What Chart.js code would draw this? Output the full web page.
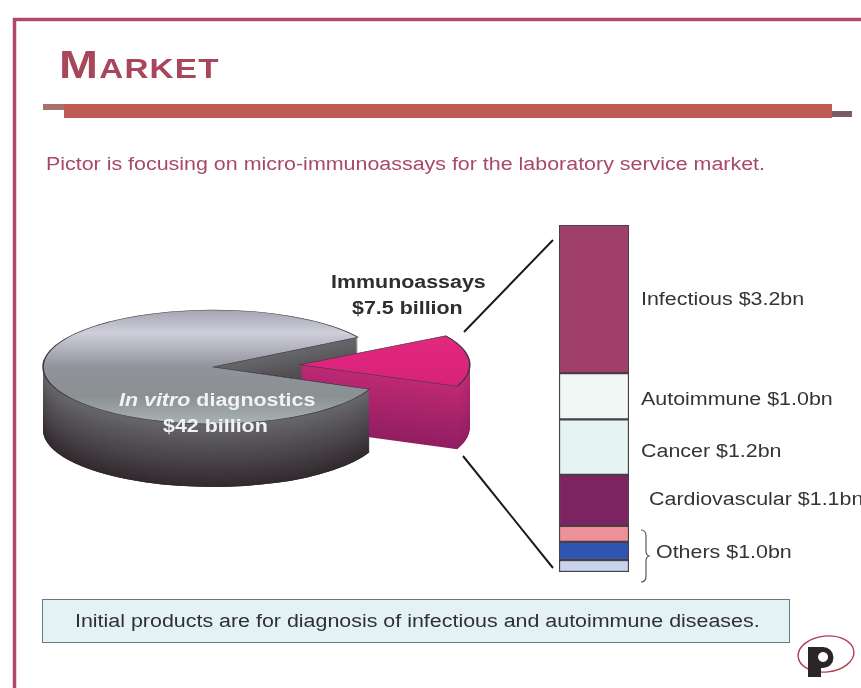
<!DOCTYPE html>
<html>
<head>
<meta charset="utf-8">
<title>Market</title>
<script src="https://cdn.jsdelivr.net/npm/chart.js@4/dist/chart.umd.min.js"></script>
<style>
html, body { margin: 0; padding: 0; background: #fff; }
#page { position: relative; width: 861px; height: 688px; overflow: hidden; font-family: "Liberation Sans", Arial, sans-serif; color: #343438; }
#page canvas, #page svg { position: absolute; }
.txt { position: absolute; white-space: nowrap; line-height: 1; transform-origin: 0 50%; transform: scaleX(1.19); }
#title { left: 59px; top: 46px; font-size: 38px; font-weight: bold; font-variant: small-caps; color: #a8465c; letter-spacing: 1px; transform: scaleX(1.23); }
#sub { left: 46px; top: 155px; font-size: 18px; color: #a8486c; }
.pieName { color: #f2f2f4; font-size: 18px; font-weight: bold; }
.head { font-size: 18px; font-weight: bold; color: #2e2e32; }
.seg { font-size: 18px; }
#note { left: 42px; top: 599px; width: 746px; height: 42px; background: #e4f2f6; border: 1px solid #66787c; position: absolute; }
#noteTxt { left: 75px; top: 612px; font-size: 18px; color: #303034; }
</style>
</head>
<body>
<div id="page">
  <svg width="861" height="688">
    <!-- page frame -->
    <path d="M861 19.5H14.5V688" fill="none" stroke="#b04a68" stroke-width="3.5"/>
    <!-- rule under the heading -->
    <rect x="43" y="104" width="22" height="6" fill="#a8706c"/>
    <rect x="64" y="104" width="768" height="14" fill="#bf5a55"/>
    <rect x="832" y="111" width="20" height="6" fill="#7a5a68"/>
    <!-- lines from the slice out to the bar -->
    <path d="M464 332L553 240M463 456L553 568" fill="none" stroke="#1c1c1c" stroke-width="2"/>
    <!-- brace beside the small segments -->
    <path d="M641 530q5 0 5 6v15q0 4 3 5q-3 1 -3 5v15q0 6 -5 6" fill="none" stroke="#55585a" stroke-width="1.2"/>
    <!-- logo -->
    <ellipse cx="826" cy="654" rx="28" ry="18" fill="none" stroke="#b03c50" stroke-width="1.4" transform="rotate(-6 826 654)"/>
    <path fill-rule="evenodd" fill="#2c2426" d="M808 647h15a10.5 10.5 0 0 1 0 21h-2v9h-13z M823 652a5 5 0 1 0 .1 0z"/>
  </svg>

  <div id="note"></div>
  <canvas id="graficoMercado"></canvas>
  <canvas id="graficoSegmentos"></canvas>

  <div class="txt" id="title">Market</div>
  <div class="txt" id="sub">Pictor is focusing on micro-immunoassays for the laboratory service market.</div>
  <div class="txt pieName" style="left:119px;top:391px"><i>In vitro</i> diagnostics</div>
  <div class="txt pieName" style="left:163px;top:417px">$42 billion</div>
  <div class="txt head" style="left:331px;top:273px">Immunoassays</div>
  <div class="txt head" style="left:352px;top:299px">$7.5 billion</div>
  <div class="txt seg" style="left:641px;top:290px">Infectious $3.2bn</div>
  <div class="txt seg" style="left:641px;top:390px">Autoimmune $1.0bn</div>
  <div class="txt seg" style="left:641px;top:442px">Cancer $1.2bn</div>
  <div class="txt seg" style="left:649px;top:490px">Cardiovascular $1.1bn</div>
  <div class="txt seg" style="left:656px;top:543px">Others $1.0bn</div>
  <div class="txt" id="noteTxt">Initial products are for diagnosis of infectious and autoimmune diseases.</div>
</div>

<script>
// Mercado total e fatia de imunoensaios (US$ bi)
const marketLabels = ['In vitro diagnostics', 'Immunoassays'];
const marketValues = [42, 7.5];

// Segmentos da barra, de baixo para cima; os tres primeiros somam "Others" = 1.0
const segmentLabels = ['Others (c)', 'Others (b)', 'Others (a)', 'Cardiovascular', 'Cancer', 'Autoimmune', 'Infectious'];
const segmentValues = [0.26, 0.39, 0.35, 1.1, 1.2, 1.0, 3.2];
const segmentColors = ['#c6d4ec', '#2c56b2', '#ee9098', '#7c2460', '#e6f3f3', '#f0f8f5', '#a03f6b'];

// Achatamento e altura da "pizza" 3D
const FLATTEN = 0.335;
const DEPTH = 63;
const PIE_CX = 213, PIE_CY = 367, PIE_R = 170;
const SLICE_OFFSET = 348; // o Chart.js desloca offset / 4

function mix(a, b, t) {
    return 'rgb(' + a.map((v, i) => Math.round(v + (b[i] - v) * t)).join(',') + ')';
}

// Um arco achatado, d pixels abaixo da face superior
function drawFlat(ctx, arc, d) {
    ctx.save();
    ctx.translate(0, PIE_CY + d);
    ctx.scale(1, FLATTEN);
    ctx.translate(0, -PIE_CY);
    arc.draw(ctx);
    ctx.restore();
}

// Lateral: copias empilhadas do arco, da base ate a face
function drawSide(ctx, arc, from, to) {
    const top = arc.options;
    for (let d = DEPTH; d >= 1; d--) {
        const c = mix(from, to, d / DEPTH);
        arc.options = Object.assign({}, top, { backgroundColor: c, borderColor: c, borderWidth: 0 });
        drawFlat(ctx, arc, d);
    }
    arc.options = top;
}

const pie3d = {
    id: 'pie3d',
    beforeDatasetsDraw(chart) {
        const ctx = chart.ctx;
        const [grey, slice] = chart.getDatasetMeta(0).data;
        const greySide = [[104, 104, 108], [50, 42, 46]];

        // o deslocamento tambem aumenta o raio do arco; compensa para ficar igual ao cinza
        const fix = 1 - Math.sin(Math.min(Math.PI, slice.circumference));
        slice.outerRadius = PIE_R - (SLICE_OFFSET / 4) * fix;

        drawSide(ctx, grey, greySide[0], greySide[1]);
        drawSide(ctx, slice, [190, 42, 116], [146, 30, 98]);
        drawFlat(ctx, slice, 0);

        // a parede frontal do cinza fica na frente da fatia
        const far = 600;
        ctx.save();
        ctx.beginPath();
        ctx.moveTo(PIE_CX, PIE_CY);
        ctx.lineTo(PIE_CX + far * Math.cos(grey.startAngle), PIE_CY + far * FLATTEN * Math.sin(grey.startAngle));
        ctx.lineTo(861, 688);
        ctx.lineTo(0, 688);
        ctx.lineTo(0, PIE_CY);
        ctx.closePath();
        ctx.clip();
        drawSide(ctx, grey, greySide[0], greySide[1]);
        ctx.restore();

        drawFlat(ctx, grey, 0);
        return false;
    }
};

function faceColor(c) {
    const g = c.chart.ctx.createLinearGradient(0, PIE_CY - PIE_R, 0, PIE_CY + PIE_R);
    if (c.dataIndex === 0) {
        g.addColorStop(0, '#a4a4b2');
        g.addColorStop(0.2, '#cfcfdc');
        g.addColorStop(0.5, '#92929c');
        g.addColorStop(0.75, '#8a9092');
        g.addColorStop(1, '#aab2b4');
    } else {
        g.addColorStop(0.3, '#e0287e');
        g.addColorStop(0.7, '#d8217a');
    }
    return g;
}

const pageCanvas = document.getElementById('graficoMercado');
pageCanvas.width = 861;
pageCanvas.height = 688;
pageCanvas.style.left = '0px';
pageCanvas.style.top = '0px';

new Chart(pageCanvas.getContext('2d'), {
    type: 'pie',
    data: {
        labels: marketLabels,
        datasets: [{
            data: marketValues,
            backgroundColor: faceColor,
            borderColor: '#3a3a3e',
            borderWidth: 1.6,
            offset: [0, SLICE_OFFSET]
        }]
    },
    options: {
        responsive: false,
        animation: false,
        rotation: 113,
        radius: PIE_R,
        layout: { padding: { left: 0, right: 861 - 2 * PIE_CX, top: 2 * PIE_CY - 688, bottom: 0 } },
        plugins: { legend: { display: false }, tooltip: { enabled: false } }
    },
    plugins: [pie3d]
});

const barCanvas = document.getElementById('graficoSegmentos');
barCanvas.width = 74;
barCanvas.height = 351;
barCanvas.style.left = '557px';
barCanvas.style.top = '223px';

new Chart(barCanvas.getContext('2d'), {
    type: 'bar',
    data: {
        labels: ['Immunoassays'],
        datasets: segmentLabels.map((name, i) => ({
            label: name,
            data: [segmentValues[i]],
            backgroundColor: segmentColors[i],
            borderColor: '#4c3c48',
            borderWidth: 1.5,
            borderSkipped: false,
            barPercentage: 1,
            categoryPercentage: 1
        }))
    },
    options: {
        responsive: false,
        animation: false,
        layout: { padding: 2 },
        scales: {
            x: { stacked: true, display: false },
            y: { stacked: true, display: false, min: 0, max: 7.5 }
        },
        plugins: { legend: { display: false }, tooltip: { enabled: false } }
    }
});
</script>
</body>
</html>
